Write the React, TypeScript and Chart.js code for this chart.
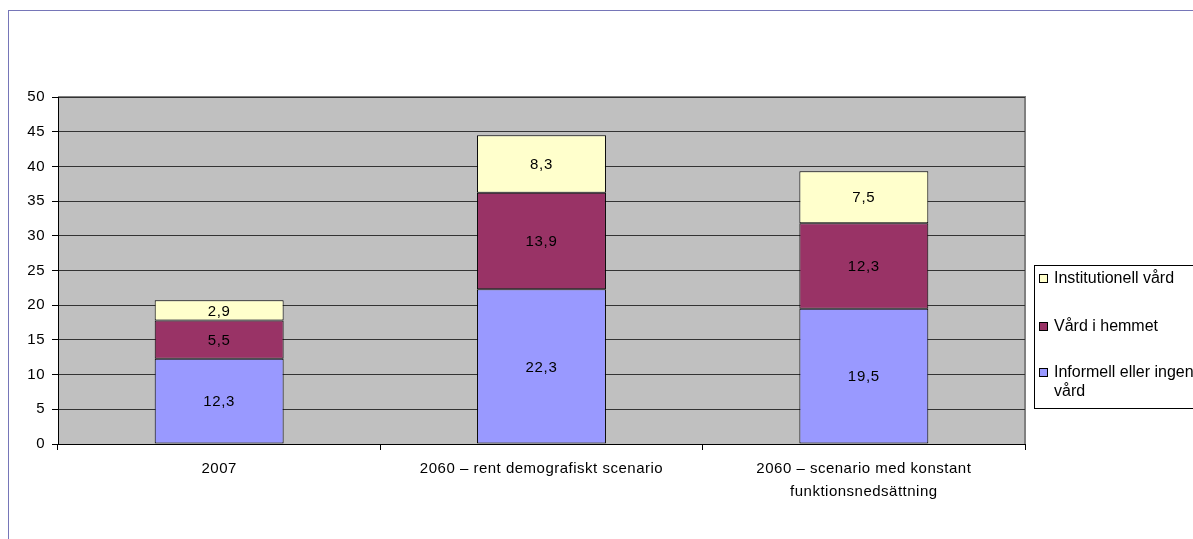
import React, { useEffect, useRef } from "react";
import { Chart, registerables } from "chart.js";

Chart.register(...registerables);

const categories: (string | string[])[] = [
  "2007",
  "2060 – rent demografiskt scenario",
  ["2060 – scenario med konstant", "funktionsnedsättning"],
];
const informell = [12.3, 22.3, 19.5];
const hemmet = [5.5, 13.9, 12.3];
const institutionell = [2.9, 8.3, 7.5];
const seriesNames = ["Informell eller ingen vård", "Vård i hemmet", "Institutionell vård"];
const seriesColors = ["#9999FF", "#993366", "#FFFFCC"];
const legendLines: string[][] = [["Informell eller ingen", "vård"], ["Vård i hemmet"], ["Institutionell vård"]];

const FONT = "'Liberation Sans', Arial, sans-serif";

export default function App() {
  const ref = useRef<HTMLCanvasElement | null>(null);
  useEffect(() => {
    if (!ref.current) return;
    const bgPlugin = {
      id: "bg",
      beforeDraw(chart: any) {
        const { ctx, chartArea: a } = chart;
        ctx.save();
        ctx.fillStyle = "#ffffff";
        ctx.fillRect(0, 0, chart.width, chart.height);
        ctx.strokeStyle = "#7676b8";
        ctx.lineWidth = 1;
        ctx.strokeRect(8.5, 10.5, 1400, 1000);
        ctx.fillStyle = "#C0C0C0";
        ctx.fillRect(a.left, a.top, a.right - a.left, a.bottom - a.top);
        ctx.strokeStyle = "#808080";
        ctx.lineWidth = 2;
        ctx.beginPath();
        ctx.moveTo(a.left, a.top);
        ctx.lineTo(a.right, a.top);
        ctx.lineTo(a.right, a.bottom);
        ctx.stroke();
        ctx.restore();
        ctx.letterSpacing = "0.5px";
      },
    };
    const labelPlugin = {
      id: "labels",
      afterDatasetsDraw(chart: any) {
        const { ctx } = chart;
        ctx.save();
        ctx.letterSpacing = "0.7px";
        ctx.font = `15px ${FONT}`;
        ctx.fillStyle = "#000";
        ctx.textAlign = "center";
        ctx.textBaseline = "middle";
        chart.data.datasets.forEach((ds: any, di: number) => {
          const meta = chart.getDatasetMeta(di);
          meta.data.forEach((bar: any, i: number) => {
            const y = (bar.y + bar.base) / 2;
            ctx.fillText(String(ds.data[i]).replace(".", ","), bar.x, y + 1);
          });
        });
        ctx.restore();
      },
      afterDraw(chart: any) {
        const { ctx } = chart;
        ctx.save();
        const lx = 1034.5, ly = 265.5;
        ctx.fillStyle = "#fff";
        ctx.fillRect(lx, ly, 200, 143);
        ctx.strokeStyle = "#000";
        ctx.lineWidth = 1;
        ctx.strokeRect(lx, ly, 200, 143);
        ctx.letterSpacing = "0px";
        ctx.font = `16px ${FONT}`;
        ctx.textBaseline = "middle";
        ctx.textAlign = "left";
        const rows = [2, 1, 0];
        const ys = [279, 327, 373];
        rows.forEach((si, k) => {
          const y = ys[k];
          ctx.fillStyle = seriesColors[si];
          ctx.fillRect(1039.5, y - 4.5, 8, 8);
          ctx.strokeStyle = "#000";
          ctx.strokeRect(1039.5, y - 4.5, 8, 8);
          ctx.fillStyle = "#000";
          legendLines[si].forEach((t, j) => {
            ctx.fillText(t, 1054, y + j * 19);
          });
        });
        ctx.restore();
      },
    };
    const chart = new Chart(ref.current, {
      type: "bar",
      data: {
        labels: categories,
        datasets: [
          { label: seriesNames[0], data: informell, backgroundColor: seriesColors[0] },
          { label: seriesNames[1], data: hemmet, backgroundColor: seriesColors[1] },
          { label: seriesNames[2], data: institutionell, backgroundColor: seriesColors[2] },
        ].map((d) => ({ ...d, borderColor: "#000", borderWidth: 1, borderSkipped: false, barPercentage: 0.4, categoryPercentage: 1 })),
      },
      options: {
        animation: false,
        responsive: false,
        maintainAspectRatio: false,
        layout: { padding: { left: 8, top: 97, right: 168, bottom: 25 } },
        plugins: { legend: { display: false }, tooltip: { enabled: false } },
        scales: {
          x: {
            stacked: true,
            afterFit: (s: any) => { s.height = 70; },
            grid: { display: true, drawOnChartArea: false, drawTicks: true, tickLength: 6, color: "#000", offset: true },
            border: { display: true, color: "#000", width: 1 },
            ticks: { color: "#000", font: { family: FONT, size: 15, lineHeight: 1.5 }, padding: 8, maxRotation: 0, autoSkip: false },
          },
          y: {
            stacked: true,
            min: 0,
            max: 50,
            afterFit: (s: any) => { s.width = 50; },
            grid: { color: "#333", drawTicks: true, tickLength: 6, tickColor: "#000" },
            border: { display: true, color: "#000", width: 1 },
            ticks: { stepSize: 5, color: "#000", font: { family: FONT, size: 15 }, padding: 7 },
          },
        },
      },
      plugins: [bgPlugin, labelPlugin],
    } as any);
    return () => chart.destroy();
  }, []);
  return (
    <div style={{ position: "fixed", left: 0, top: 0, width: 1193, height: 539, background: "#fff" }}>
      <canvas ref={ref} width={1193} height={539} style={{ width: 1193, height: 539, display: "block" }} />
    </div>
  );
}
